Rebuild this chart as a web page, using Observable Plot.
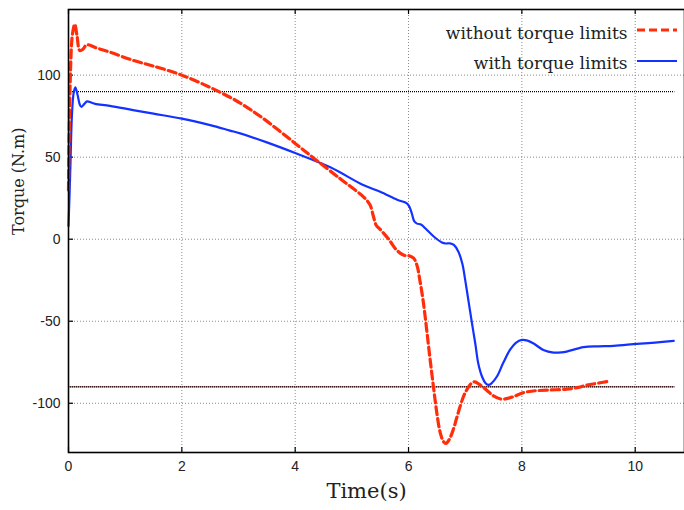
<!DOCTYPE html>
<html>
<head>
<meta charset="utf-8">
<script src="https://cdn.jsdelivr.net/npm/d3@7"></script>
<script src="https://cdn.jsdelivr.net/npm/@observablehq/plot@0.6"></script>
<style>
  html, body { margin: 0; padding: 0; background: #fff; }
  #chart { position: relative; width: 684px; height: 510px; }
</style>
</head>
<body>
<div id="chart"></div>
<script>
// ---- data ----
const timeNoLim = [0, 0.03, 0.07, 0.11, 0.15, 0.2, 0.26, 0.32, 0.5, 0.73, 1.14, 1.5, 2.0, 2.5, 2.85, 3.03, 3.44, 4.0, 4.38, 4.79, 5.0, 5.2, 5.32, 5.38, 5.43, 5.5, 5.65, 5.79, 5.92, 6.0, 6.09, 6.15, 6.2, 6.26, 6.32, 6.38, 6.44, 6.5, 6.56, 6.62, 6.66, 6.72, 6.79, 6.85, 6.91, 6.98, 7.06, 7.12, 7.17, 7.25, 7.38, 7.5, 7.64, 7.75, 7.85, 8.03, 8.2, 8.44, 8.79, 9.0, 9.14, 9.35, 9.56];
const torqueNoLim = [30, 96, 125, 131, 124, 115, 116, 118.5, 116.5, 114, 109, 105.5, 100, 92.5, 86.5, 83, 73.5, 58.4, 48, 37, 31.5, 26, 21, 14, 8.5, 6, 0, -6.6, -9.8, -10, -11.6, -16, -25, -38, -55, -73, -90, -106, -118, -123.5, -124.5, -122, -116, -109, -102, -95, -90, -87.5, -87, -88.5, -92, -95.5, -97.5, -97, -96, -93.5, -92.5, -92, -91.4, -90.3, -89, -87.7, -86.5];

const timeLim = [0, 0.03, 0.06, 0.09, 0.12, 0.16, 0.2, 0.23, 0.28, 0.33, 0.4, 0.47, 0.73, 1.14, 1.5, 2.0, 2.5, 2.85, 3.03, 3.5, 4.0, 4.62, 5.2, 5.5, 5.8, 5.97, 6.02, 6.06, 6.1, 6.15, 6.22, 6.3, 6.45, 6.59, 6.66, 6.73, 6.8, 6.88, 6.95, 7.0, 7.06, 7.12, 7.18, 7.23, 7.3, 7.36, 7.41, 7.46, 7.56, 7.67, 7.79, 7.9, 8.0, 8.1, 8.2, 8.38, 8.56, 8.7, 8.79, 9.09, 9.35, 9.62, 10.03, 10.35, 10.68];
const torqueLim = [8, 40, 75, 89, 92.5, 88, 82, 80.7, 82.5, 84, 83.3, 82.5, 81.3, 78.7, 76.5, 73.5, 69.5, 66.2, 64.5, 59, 52.5, 43.8, 33, 28.9, 24, 21.9, 19.5, 15.5, 11, 9.5, 9, 6.5, 1.5, -2, -2.6, -2.5, -3.5, -7.6, -15, -24.8, -38, -51.2, -64, -75.6, -84, -87.8, -88.8, -88, -83.7, -75.5, -67.5, -63, -61.4, -61.8, -63.4, -67.5, -69.1, -69, -68.5, -65.8, -65.3, -65, -63.8, -63, -62];

const limits = [90, -90];
const limitEnd = 10.7;
const xTicks = [0, 2, 4, 6, 8, 10];
const yTicks = [-100, -50, 0, 50, 100];
const seriesNames = ["without torque limits", "with torque limits"];
const xLabel = "Time(s)";
const yLabel = "Torque (N.m)";

// ---- build ----
const noLim = timeNoLim.map((t, i) => ({t, v: torqueNoLim[i]}));
const withLim = timeLim.map((t, i) => ({t, v: torqueLim[i]}));

const W = 684, H = 510, mL = 68, mR = 0, mT = 9, mB = 58;
const plotH = H - mT - mB, plotW = W - mL - mR;
const RED = "#ff2d0a", BLUE = "#1432ff";
const serif = "DejaVu Serif";
const fmt = d => String(d);

const chart = Plot.plot({
  width: W, height: H,
  marginLeft: mL, marginRight: mR, marginTop: mT, marginBottom: mB,
  style: {fontFamily: "Liberation Sans", fontSize: "14px", color: "#222", background: "#fff"},
  x: {domain: [0, 10.87]},
  y: {domain: [-130, 140]},
  marks: [
    Plot.ruleX(xTicks, {stroke: "#8a8a8a", strokeDasharray: "1,2", strokeWidth: 1}),
    Plot.ruleY(yTicks, {stroke: "#8a8a8a", strokeDasharray: "1,2", strokeWidth: 1}),
    Plot.ruleY([limits[0]], {x1: 0, x2: limitEnd, stroke: "#000", strokeDasharray: "1,1", strokeWidth: 1.3}),
    Plot.ruleY([limits[1]], {x1: 0, x2: limitEnd, stroke: "#cf7a6c", strokeWidth: 1.5}),
    Plot.ruleY([limits[1]], {x1: 0, x2: limitEnd, stroke: "#3a1c1c", strokeDasharray: "1,1", strokeWidth: 1.5}),
    // inward ticks
    Plot.ruleX(xTicks, {insetTop: plotH - 5, stroke: "#000", strokeWidth: 1.2}),
    Plot.ruleX(xTicks, {insetBottom: plotH - 5, stroke: "#000", strokeWidth: 1.2}),
    Plot.ruleY(yTicks, {insetRight: plotW - 5, stroke: "#000", strokeWidth: 1.2}),
    Plot.axisX({ticks: xTicks, tickSize: 0, tickPadding: 9, label: null, tickFormat: fmt}),
    Plot.axisY({ticks: yTicks, tickSize: 0, tickPadding: 8, label: null, tickFormat: fmt}),
    Plot.line(withLim, {x: "t", y: "v", stroke: BLUE, strokeWidth: 2.2, curve: "catmull-rom"}),
    Plot.line(noLim, {x: "t", y: "v", stroke: RED, strokeWidth: 3.2, strokeDasharray: "8,4", curve: "catmull-rom"}),
    Plot.frame({stroke: "#000", strokeWidth: 1.6}),
    Plot.text([xLabel], {frameAnchor: "bottom", dx: -10, dy: 45, fontFamily: serif, fontSize: 21, fill: "#222"}),
    Plot.text([yLabel], {frameAnchor: "left", dx: -50, dy: 4, rotate: -90, fontFamily: serif, fontSize: 16, fill: "#222"}),
    Plot.text([seriesNames[0]], {frameAnchor: "top-right", textAnchor: "end", dx: -57, dy: 17.5, fontFamily: serif, fontSize: 17, fill: "#222"}),
    Plot.text([seriesNames[1]], {frameAnchor: "top-right", textAnchor: "end", dx: -57, dy: 47.5, fontFamily: serif, fontSize: 17, fill: "#222"})
  ]
});
document.getElementById("chart").appendChild(chart);

// legend samples
const svg = d3.select(chart);
const lg = svg.append("g");
lg.append("line").attr("x1", 637).attr("x2", 677).attr("y1", 30).attr("y2", 30)
  .attr("stroke", RED).attr("stroke-width", 3).attr("stroke-dasharray", "8,4");
lg.append("line").attr("x1", 637).attr("x2", 677).attr("y1", 61).attr("y2", 61)
  .attr("stroke", BLUE).attr("stroke-width", 2.2);
</script>
</body>
</html>
